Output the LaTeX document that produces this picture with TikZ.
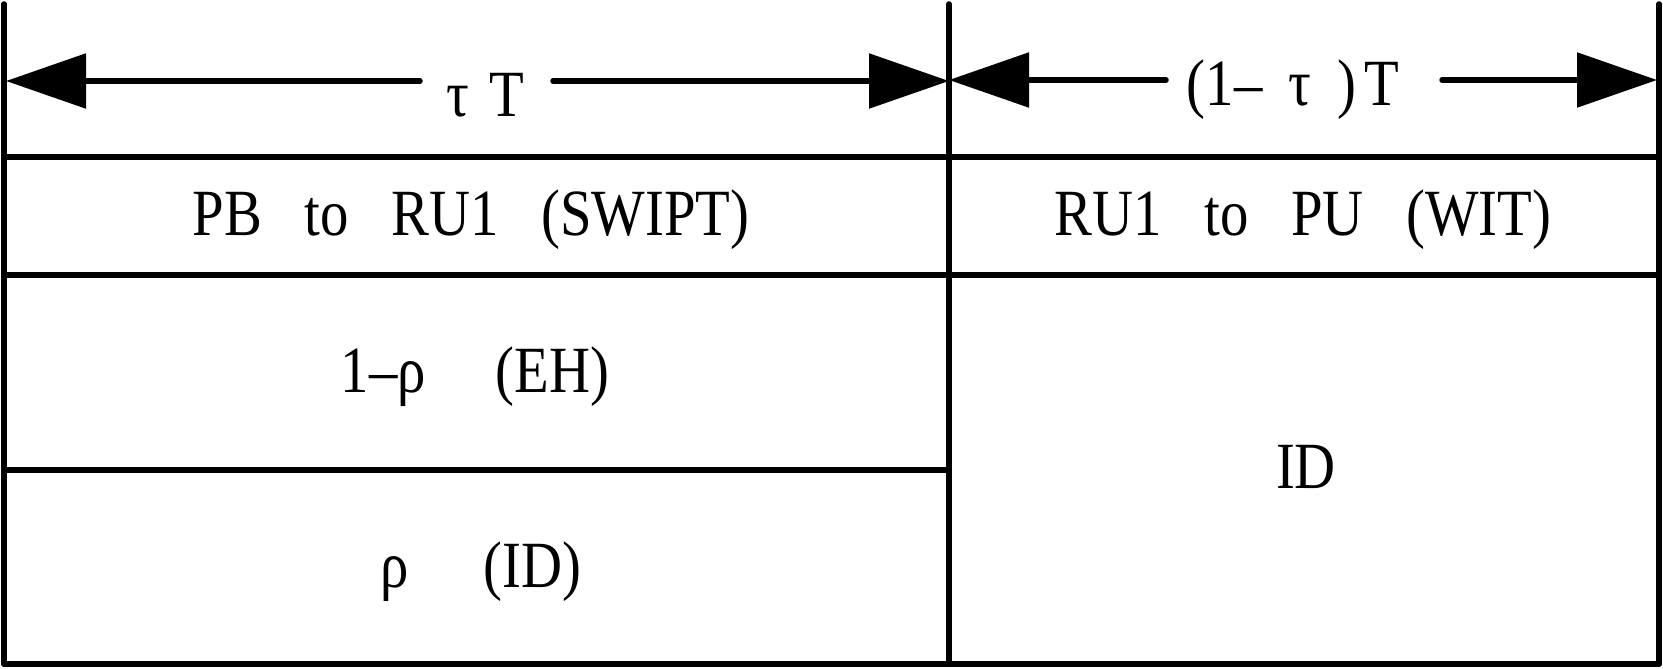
\documentclass[tikz,border=0pt]{standalone}
\usepackage{fontspec}
\setmainfont[FakeStretch=0.86, WordSpace=3.0]{Liberation Serif}
\usetikzlibrary{arrows.meta}
\tikzset{bigtip/.tip={Triangle[length=80pt,width=54pt]}}
\begin{document}
\begin{tikzpicture}[x=1pt,y=-1pt,
  rule/.style={line width=5.5pt, line cap=round},
  shaft/.style={line width=5.5pt, line cap=round},
  lbl/.style={anchor=base, inner sep=0pt, font=\fontsize{66}{70}\selectfont}]
\useasboundingbox (0,0) rectangle (1663,669);
% grid corners
\coordinate (TL) at (4,4);
\coordinate (TM) at (949,4);
\coordinate (TR) at (1659,4);
\coordinate (BL) at (4,664);
\coordinate (BM) at (949,664);
\coordinate (BR) at (1659,664);
\coordinate (R1L) at (4,157);   \coordinate (R1R) at (1659,157);
\coordinate (R2L) at (4,275);   \coordinate (R2R) at (1659,275);
\coordinate (R3L) at (4,470);   \coordinate (R3M) at (949,470);
% table rules
\draw[rule] (TL) -- (BL);
\draw[rule] (TM) -- (BM);
\draw[rule] (TR) -- (BR);
\draw[rule] (R1L) -- (R1R);
\draw[rule] (R2L) -- (R2R);
\draw[rule] (R3L) -- (R3M);
\draw[rule] (BL) -- (BR);
% labels
\node[lbl] (tauT) at (485,117) {τ\hspace{20pt}T};
\node[lbl] (omt) at (1293,105) {(1–\hspace{26pt}τ\hspace{26pt})\hspace{8pt}T};
\node[lbl] (pb) at (471,235) {PB to RU1 (SWIPT)};
\node[lbl] (ru) at (1303,235) {RU1 to PU (WIT)};
\node[lbl] (eh) at (475,392) {1–ρ\hspace{70pt}(EH)};
\node[lbl] (rid) at (481,587) {ρ\hspace{75pt}(ID)};
\node[lbl] (id) at (1306,488) {ID};
% dimension arrows
\coordinate (a1) at (6,81);    \coordinate (a2) at (420,81);
\coordinate (a3) at (553,81);  \coordinate (a4) at (949,81);
\coordinate (b1) at (949,80);  \coordinate (b2) at (1166,80);
\coordinate (b3) at (1442,80); \coordinate (b4) at (1657,80);
\draw[shaft, bigtip-] (a1) -- (a2);
\draw[shaft, -bigtip] (a3) -- (a4);
\draw[shaft, bigtip-] (b1) -- (b2);
\draw[shaft, -bigtip] (b3) -- (b4);
\end{tikzpicture}
\end{document}
